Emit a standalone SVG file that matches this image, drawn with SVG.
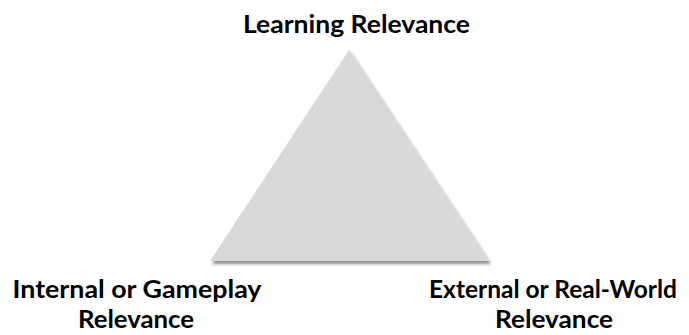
<svg xmlns="http://www.w3.org/2000/svg" width="689" height="335" viewBox="0 0 689 335">
  <defs>
    <filter id="shadow" x="-10%" y="-10%" width="120%" height="125%">
      <feGaussianBlur in="SourceAlpha" stdDeviation="1.5"/>
      <feOffset dx="1.5" dy="2.5" result="b"/>
      <feComponentTransfer><feFuncA type="linear" slope="0.45"/></feComponentTransfer>
      <feMerge><feMergeNode/><feMergeNode in="SourceGraphic"/></feMerge>
    </filter>
  </defs>
  <style>
    .lbl { font-family: Lato, "Liberation Sans", Arial, sans-serif; font-weight: bold; font-size: 24.5px; fill: #000; text-anchor: middle; }
  </style>
  <rect width="689" height="335" fill="#ffffff"/>
  <g id="triangle">
    <polygon points="349,50 210,261 489,261" fill="#d9d9d9" filter="url(#shadow)"/>
  </g>
  <g id="connectors"/>
  <g id="learning">
    <text class="lbl" x="356.5" y="33" textLength="227" lengthAdjust="spacingAndGlyphs">Learning Relevance</text>
  </g>
  <g id="internal">
    <text class="lbl" x="137" y="298" textLength="249" lengthAdjust="spacingAndGlyphs">Internal or Gameplay</text>
    <text class="lbl" x="136" y="328" textLength="116" lengthAdjust="spacingAndGlyphs">Relevance</text>
  </g>
  <g id="external">
    <text class="lbl" x="553" y="298" textLength="248" lengthAdjust="spacingAndGlyphs">External or Real-World</text>
    <text class="lbl" x="554" y="328" textLength="118" lengthAdjust="spacingAndGlyphs">Relevance</text>
  </g>
</svg>
